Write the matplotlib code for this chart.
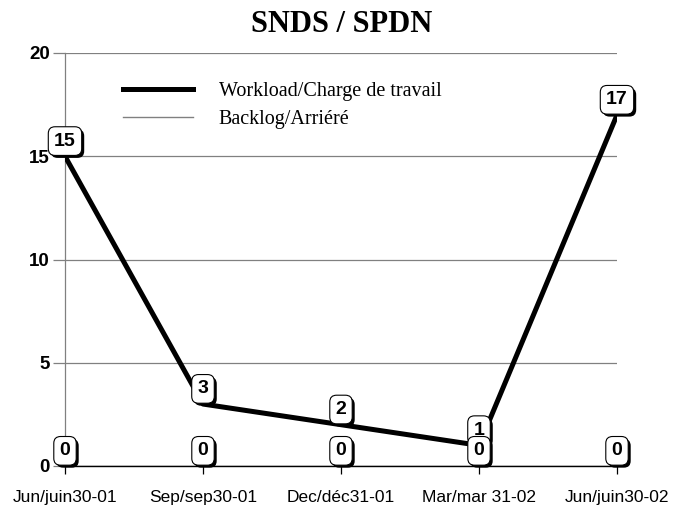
import matplotlib

matplotlib.use("Agg")
import matplotlib.pyplot as plt
import matplotlib.patheffects as pe

categories = ["Jun/juin30-01", "Sep/sep30-01", "Dec/déc31-01", "Mar/mar 31-02", "Jun/juin30-02"]
workload = [15, 3, 2, 1, 17]
backlog = [0, 0, 0, 0, 0]

serif = ["Liberation Serif", "DejaVu Serif"]
sans = ["Liberation Sans", "DejaVu Sans"]

fig = plt.figure(figsize=(6.83, 5.08), dpi=100)
ax = fig.add_axes([65 / 683, 1 - 466 / 508, 552 / 683, 413 / 508])

x = list(range(len(categories)))
ax.plot(x, backlog, color="#808080", linewidth=1.0, label="Backlog/Arriéré", zorder=3)
ax.plot(x, workload, color="black", linewidth=3.6, label="Workload/Charge de travail", zorder=4)


def box_label(xv, yv, z):
    t = ax.annotate(
        str(yv), (xv, yv), xytext=(0, 4.8), textcoords="offset points",
        ha="center", va="bottom", fontsize=14, fontweight="bold", family=sans,
        bbox=dict(boxstyle="round,pad=0.3,rounding_size=0.35", fc="white", ec="black", lw=0.8),
        zorder=z,
    )
    t.get_bbox_patch().set_path_effects(
        [pe.SimplePatchShadow(offset=(1.8, -1.8), shadow_rgbFace="black", alpha=1.0), pe.Normal()]
    )


# workload boxes first, backlog boxes drawn over them (as in the original)
for xi, v in zip(x, workload):
    box_label(xi, v, 6)
for xi, v in zip(x, backlog):
    box_label(xi, v, 7)

ax.set_xlim(0, 4)
ax.set_ylim(0, 20)
ax.set_yticks([0, 5, 10, 15, 20])
ax.set_xticks(x)
ax.set_xticklabels(categories, family=sans, fontsize=12.5)
for lab in ax.get_yticklabels():
    lab.set_family(sans)
    lab.set_fontweight("bold")
    lab.set_fontsize(13.5)

ax.grid(axis="y", color="#808080", linewidth=0.9, zorder=1)
ax.tick_params(axis="y", length=9, color="#808080", width=0.9, pad=2)
ax.tick_params(axis="x", length=6, color="black", width=0.9, pad=11)
for s in ["top", "right"]:
    ax.spines[s].set_visible(False)
ax.spines["left"].set_color("#808080")
ax.spines["left"].set_linewidth(0.9)
ax.spines["bottom"].set_color("black")
ax.spines["bottom"].set_linewidth(1.0)
ax.spines["bottom"].set_zorder(2)

handles, labels = ax.get_legend_handles_labels()
ax.legend(handles[::-1], labels[::-1], loc="upper left", bbox_to_anchor=(0.105, 0.93),
          frameon=False, prop={"family": serif, "size": 14.5}, handlelength=3.5,
          handletextpad=1.25, labelspacing=0.45, borderpad=0, borderaxespad=0)

fig.suptitle("SNDS / SPDN", y=0.98, fontsize=22, fontweight="bold", family=serif)

fig.savefig("out.png", dpi=100)
plt.close(fig)
